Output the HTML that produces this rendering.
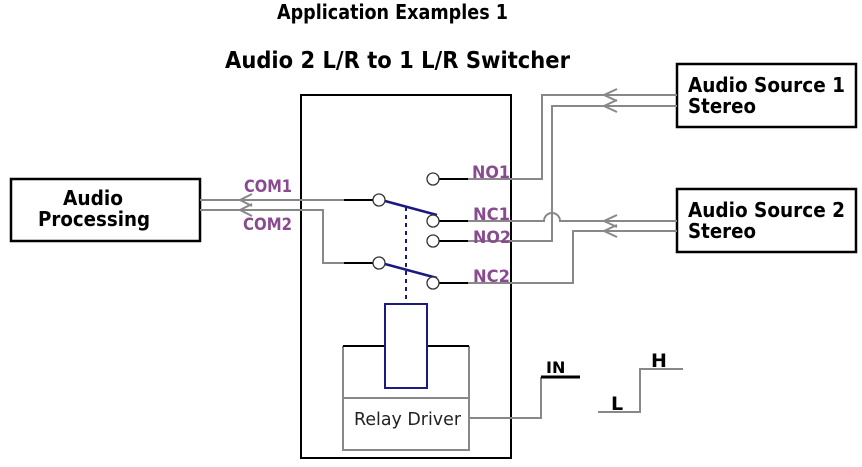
<!DOCTYPE html>
<html><head><meta charset="utf-8"><style>html,body{margin:0;padding:0;background:#fff}svg{display:block}</style></head>
<body>
<svg width="862" height="467" viewBox="0 0 862 467" xmlns="http://www.w3.org/2000/svg" font-family="DejaVu Sans, Liberation Sans, sans-serif">
<rect width="862" height="467" fill="#fff"/>
<text x="277" y="19" font-size="20" font-weight="bold" textLength="231" lengthAdjust="spacingAndGlyphs">Application Examples 1</text>
<text x="225" y="68" font-size="23" font-weight="bold" textLength="345" lengthAdjust="spacingAndGlyphs">Audio 2 L/R to 1 L/R Switcher</text>

<rect x="11" y="179" width="189" height="62" fill="none" stroke="#000" stroke-width="2.5"/>
<text x="63" y="205" font-size="20" font-weight="bold" textLength="60" lengthAdjust="spacingAndGlyphs">Audio</text>
<text x="38" y="226" font-size="20" font-weight="bold" textLength="112" lengthAdjust="spacingAndGlyphs">Processing</text>
<rect x="677" y="64" width="179" height="63" fill="none" stroke="#000" stroke-width="2.5"/>
<text x="688" y="92" font-size="20" font-weight="bold" textLength="157" lengthAdjust="spacingAndGlyphs">Audio Source 1</text>
<text x="688" y="113" font-size="20" font-weight="bold" textLength="68" lengthAdjust="spacingAndGlyphs">Stereo</text>
<rect x="677" y="189" width="179" height="63" fill="none" stroke="#000" stroke-width="2.5"/>
<text x="688" y="217" font-size="20" font-weight="bold" textLength="157" lengthAdjust="spacingAndGlyphs">Audio Source 2</text>
<text x="688" y="238" font-size="20" font-weight="bold" textLength="68" lengthAdjust="spacingAndGlyphs">Stereo</text>

<rect x="301" y="95" width="210" height="363" fill="none" stroke="#000" stroke-width="2"/>

<g fill="none" stroke="#888" stroke-width="2">
<path d="M200 200 H344"/>
<path d="M200 210 H323 V263 H344"/>
<path d="M468 179 H542 V95 H677"/>
<path d="M468 221 H544 A8 8 0 0 1 560 221 H677"/>
<path d="M468 241 H552 V106 H677"/>
<path d="M468 283 H573 V231 H677"/>
<path d="M469 418 H541 V377"/>
<path d="M598 412 H640 V369 H683"/>
<path d="M343 346 V450 H469 V346"/>
<path d="M343 398 H469"/>
<path d="M252 194 L240 200 L252 206 M252 204 L240 210 L252 216"/>
<path d="M617 89 L604 95 L617 101 M617 100 L604 106 L617 112"/>
<path d="M617 215 L604 221 L617 227 M617 225 L604 231 L617 237"/>
</g>
<g stroke="#000" stroke-width="2" fill="none">
<path d="M344 200 H373"/><path d="M344 263 H373"/>
<path d="M439 179 H468"/><path d="M439 221 H468"/><path d="M439 241 H468"/><path d="M439 283 H468"/>
<path d="M343 346 H385 M427 346 H469"/>
<path d="M541 377 H580" stroke-width="3"/>
</g>
<g stroke="#1a1a80" stroke-width="2.5" fill="none">
<path d="M385 201 L437 215"/><path d="M385 264 L437 278"/>
<path d="M406 207 V304" stroke-dasharray="4 4" stroke-width="2"/>
<rect x="385" y="304" width="42" height="84" stroke-width="2"/>
</g>
<g fill="#fff" stroke="#333" stroke-width="1.3">
<circle cx="379" cy="200" r="6"/><circle cx="379" cy="263" r="6"/>
<circle cx="433" cy="179" r="6"/><circle cx="433" cy="221" r="6"/>
<circle cx="433" cy="241" r="6"/><circle cx="433" cy="283" r="6"/>
</g>
<g font-size="17" font-weight="bold" fill="#8a4a90">
<text x="244" y="192" textLength="48" lengthAdjust="spacingAndGlyphs">COM1</text>
<text x="243" y="230" textLength="49" lengthAdjust="spacingAndGlyphs">COM2</text>
<text x="472" y="178" textLength="38" lengthAdjust="spacingAndGlyphs">NO1</text>
<text x="473" y="220" textLength="37" lengthAdjust="spacingAndGlyphs">NC1</text>
<text x="473" y="243" textLength="38" lengthAdjust="spacingAndGlyphs">NO2</text>
<text x="473" y="282" textLength="37" lengthAdjust="spacingAndGlyphs">NC2</text>
</g>
<text x="354" y="425" font-size="18" fill="#222" textLength="107" lengthAdjust="spacingAndGlyphs">Relay Driver</text>
<text x="546" y="373" font-size="16" font-weight="bold">IN</text>
<text x="611" y="410" font-size="19" font-weight="bold">L</text>
<text x="651" y="367" font-size="19" font-weight="bold">H</text>
</svg>
</body></html>
